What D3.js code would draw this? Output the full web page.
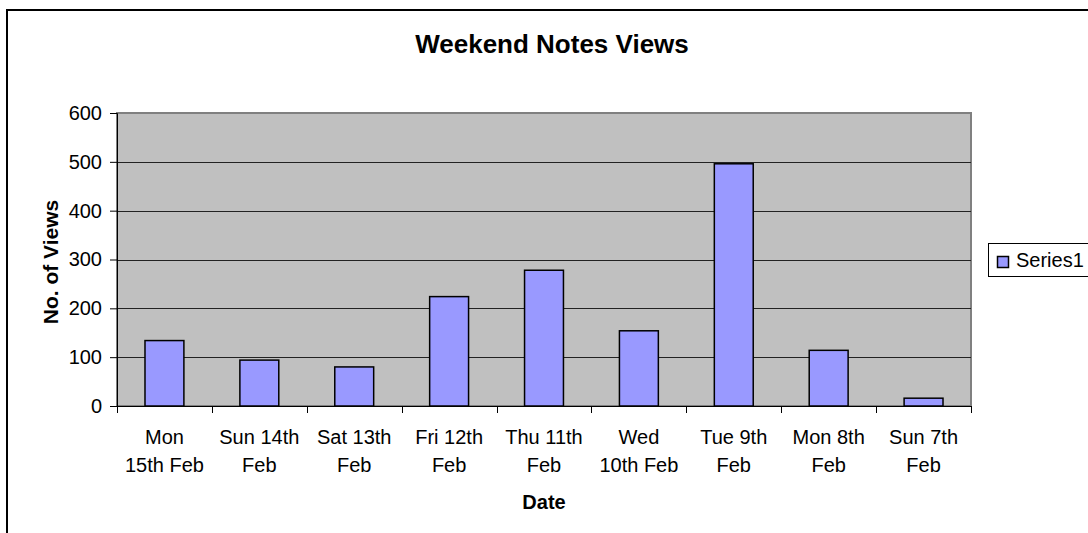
<!DOCTYPE html>
<meta charset="utf-8">
<html>
<head>
<title>Weekend Notes Views</title>
<script src="https://cdn.jsdelivr.net/npm/d3@7"></script>
<style>
  body { margin: 0; background: #fff; }
  text { font-family: Arial, "Liberation Sans", sans-serif; }
</style>
</head>
<body>
<svg width="1088" height="533"></svg>
<script>
  // chart data
  var days = [
    ["Mon", "15th Feb"], ["Sun 14th", "Feb"], ["Sat 13th", "Feb"],
    ["Fri 12th", "Feb"], ["Thu 11th", "Feb"], ["Wed", "10th Feb"],
    ["Tue 9th", "Feb"], ["Mon 8th", "Feb"], ["Sun 7th", "Feb"]
  ];
  var views = [134, 94, 80, 224, 278, 154, 496, 114, 16];
  var yTicks = [0, 100, 200, 300, 400, 500, 600];
  var seriesName = "Series1";

  var svg = d3.select("svg");

  // outer chart frame
  svg.append("rect")
    .attr("x", 7).attr("y", 10)
    .attr("width", 1100).attr("height", 600)
    .attr("fill", "#fff").attr("stroke", "#000").attr("stroke-width", 2);

  var plotL = 117, plotR = 971, plotT = 113, plotB = 406;

  var x = d3.scaleBand()
    .domain(d3.range(days.length))
    .range([plotL, plotR])
    .padding(0);

  var y = d3.scaleLinear()
    .domain([0, 600])
    .range([plotB, plotT]);

  // plot background
  svg.append("rect")
    .attr("x", plotL).attr("y", plotT)
    .attr("width", plotR - plotL).attr("height", plotB - plotT)
    .attr("fill", "#c0c0c0")
    .attr("stroke", "#808080").attr("stroke-width", 2);

  // gridlines
  svg.append("g")
    .selectAll("line")
    .data(yTicks.filter(function(d) { return d > 0 && d < 600; }))
    .enter()
    .append("line")
    .attr("x1", plotL).attr("x2", plotR)
    .attr("y1", function(d) { return Math.round(y(d)) + 0.5; })
    .attr("y2", function(d) { return Math.round(y(d)) + 0.5; })
    .attr("stroke", "#222").attr("stroke-width", 1);

  // bars
  var barW = x.bandwidth() * 0.41;
  svg.append("g")
    .selectAll("rect")
    .data(views)
    .enter()
    .append("rect")
    .attr("x", function(d, i) { return x(i) + (x.bandwidth() - barW) / 2; })
    .attr("y", function(d) { return y(d); })
    .attr("width", barW)
    .attr("height", function(d) { return y(0) - y(d); })
    .attr("fill", "#9999ff")
    .attr("stroke", "#000").attr("stroke-width", 1.5);

  // y axis
  var yAxis = svg.append("g")
    .attr("transform", "translate(" + plotL + ",0)")
    .call(d3.axisLeft(y).tickValues(yTicks).tickSize(7).tickPadding(8));
  yAxis.select(".domain").attr("stroke", "#000");
  yAxis.selectAll("text").attr("font-size", 20).attr("fill", "#000")
    .style("font-family", "Arial, 'Liberation Sans', sans-serif");

  // x axis: ticks at category boundaries
  svg.append("line")
    .attr("x1", plotL).attr("x2", plotR)
    .attr("y1", plotB + 0.5).attr("y2", plotB + 0.5)
    .attr("stroke", "#000");
  svg.append("g")
    .selectAll("line")
    .data(d3.range(days.length + 1))
    .enter()
    .append("line")
    .attr("x1", function(i) { return Math.round(plotL + i * x.step()) + 0.5; })
    .attr("x2", function(i) { return Math.round(plotL + i * x.step()) + 0.5; })
    .attr("y1", plotB).attr("y2", plotB + 7)
    .attr("stroke", "#000");

  var xl = svg.append("g")
    .selectAll("text")
    .data(days)
    .enter()
    .append("text")
    .attr("text-anchor", "middle")
    .attr("font-size", 20)
    .attr("x", function(d, i) { return x(i) + x.bandwidth() / 2; });
  xl.append("tspan")
    .attr("x", function(d, i) { return x(i) + x.bandwidth() / 2; })
    .attr("y", 444)
    .text(function(d) { return d[0]; });
  xl.append("tspan")
    .attr("x", function(d, i) { return x(i) + x.bandwidth() / 2; })
    .attr("y", 472)
    .text(function(d) { return d[1]; });

  // titles
  svg.append("text")
    .attr("x", 552).attr("y", 53)
    .attr("text-anchor", "middle")
    .attr("font-size", 26).attr("font-weight", "bold")
    .text("Weekend Notes Views");

  svg.append("text")
    .attr("x", 544).attr("y", 509)
    .attr("text-anchor", "middle")
    .attr("font-size", 20).attr("font-weight", "bold")
    .text("Date");

  svg.append("text")
    .attr("transform", "translate(58,262) rotate(-90)")
    .attr("text-anchor", "middle")
    .attr("font-size", 21).attr("font-weight", "bold")
    .text("No. of Views");

  // legend
  var lg = svg.append("g");
  lg.append("rect")
    .attr("x", 988.5).attr("y", 243.5)
    .attr("width", 110).attr("height", 33)
    .attr("fill", "#fff").attr("stroke", "#000");
  lg.append("rect")
    .attr("x", 997.5).attr("y", 256.5)
    .attr("width", 11).attr("height", 11)
    .attr("fill", "#9999ff").attr("stroke", "#000").attr("stroke-width", 1.5);
  lg.append("text")
    .attr("x", 1016).attr("y", 267)
    .attr("font-size", 20)
    .text(seriesName);
</script>
</body>
</html>
